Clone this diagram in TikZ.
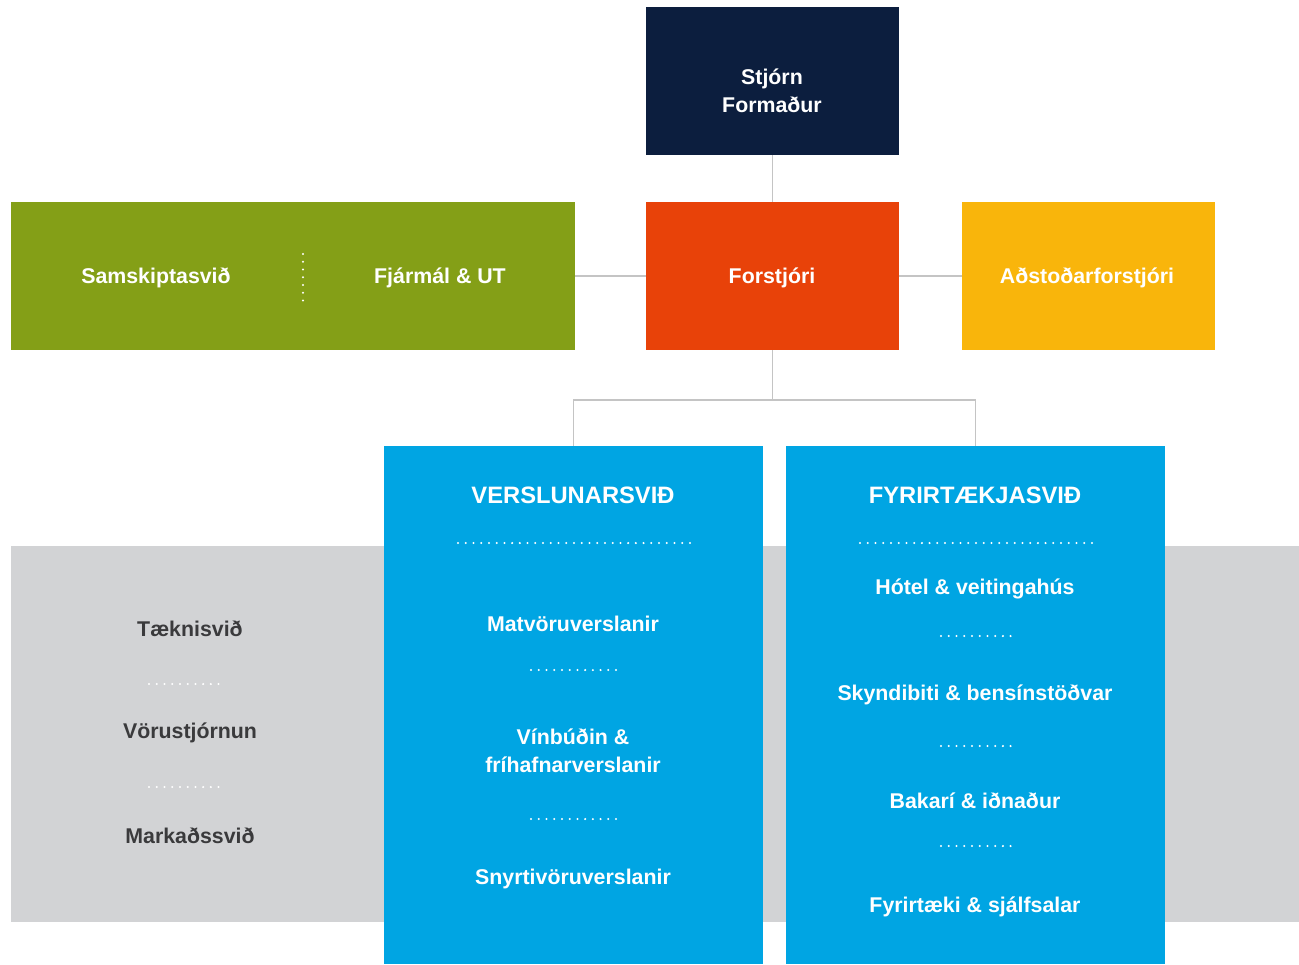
\documentclass[tikz,border=0pt]{standalone}
\usepackage{fontspec}
\setmainfont{Liberation Sans}
\definecolor{navy}{HTML}{0C1E3E}
\definecolor{orangebox}{HTML}{E84209}
\definecolor{greenbox}{HTML}{849F17}
\definecolor{yellowbox}{HTML}{F9B50B}
\definecolor{bluebox}{HTML}{00A5E3}
\definecolor{band}{HTML}{D2D3D5}
\definecolor{conn}{HTML}{C4C4C4}
\definecolor{darktext}{HTML}{3A3A3C}
\begin{document}
\begin{tikzpicture}[x=0.75pt,y=-0.75pt,
  box/.style={draw=none, inner sep=0pt},
  label/.style={inner sep=0pt, align=center, text=white, yshift=-0.6pt,
    font=\bfseries\fontsize{16}{21}\selectfont},
  headlabel/.style={label, font=\bfseries\fontsize{17.8}{21}\selectfont},
  graylabel/.style={label, text=darktext},
  dotline/.style={white, line width=1.7pt, line cap=round, dash pattern=on 0pt off 5.8pt},
  connector/.style={conn, line width=1.1pt}]
\useasboundingbox (0,0) rectangle (1299,964);
% gray band
\fill[band] (11,546) rectangle (1299,922);
% top boxes
\node[box, fill=navy, minimum width=253*0.75pt, minimum height=148*0.75pt] (stjorn) at (772.5,81) {};
\node[box, fill=orangebox, minimum width=253*0.75pt, minimum height=148*0.75pt] (forstjori) at (772.5,276) {};
\node[box, fill=greenbox, minimum width=564*0.75pt, minimum height=148*0.75pt] (green) at (293,276) {};
\node[box, fill=yellowbox, minimum width=253*0.75pt, minimum height=148*0.75pt] (adstod) at (1088.5,276) {};
\node[label] (stjorntext) at (772,90) {Stjórn\\Formaður};
\node[label] (forstext) at (772,277) {Forstjóri};
\node[label] (adstext) at (1087,277) {Aðstoðarforstjóri};
\node[label] (samsk) at (156,277) {Samskiptasvið};
\node[label] (fjarmal) at (440,277) {Fjármál \& UT};
\draw[dotline] (303,254) -- (303,302);
% blue boxes
\node[box, fill=bluebox, minimum width=379*0.75pt, minimum height=518*0.75pt] (versl) at (573.5,705) {};
\node[box, fill=bluebox, minimum width=379*0.75pt, minimum height=518*0.75pt] (fyrir) at (975.5,705) {};
% connectors
\coordinate (bus) at (772.5,400);
\draw[connector] (stjorn.south) -- (forstjori.north);
\draw[connector] (green.east) -- (forstjori.west);
\draw[connector] (forstjori.east) -- (adstod.west);
\draw[connector] (forstjori.south) -- (bus);
\draw[connector] (versl.north) |- (bus) -| (fyrir.north);
% Verslunarsvið
\node[headlabel] (vhead) at (573,495) {VERSLUNARSVIÐ};
\draw[dotline] (458,543) -- (690,543);
\node[label] (matv) at (573,623) {Matvöruverslanir};
\draw[dotline] (531,670) -- (617,670);
\node[label] (vinb) at (573,750) {Vínbúðin \&\\fríhafnarverslanir};
\draw[dotline] (531,819) -- (617,819);
\node[label] (snyrt) at (573,878) {Snyrtivöruverslanir};
% Fyrirtækjasvið
\node[headlabel] (fhead) at (975,495) {FYRIRTÆKJASVIÐ};
\draw[dotline] (860,543) -- (1092,543);
\node[label] (hotel) at (975,588) {Hótel \& veitingahús};
\draw[dotline] (941,636) -- (1017,636);
\node[label] (skynd) at (975,694) {Skyndibiti \& bensínstöðvar};
\draw[dotline] (941,746) -- (1017,746);
\node[label] (bakari) at (975,800) {Bakarí \& iðnaður};
\draw[dotline] (941,846) -- (1017,846);
\node[label] (fyrirt) at (975,906) {Fyrirtæki \& sjálfsalar};
% left band
\node[graylabel] (taekni) at (190,628) {Tæknisvið};
\draw[dotline] (149,684) -- (225,684);
\node[graylabel] (voru) at (190,732) {Vörustjórnun};
\draw[dotline] (149,787) -- (225,787);
\node[graylabel] (mark) at (190,835) {Markaðssvið};
\end{tikzpicture}
\end{document}
